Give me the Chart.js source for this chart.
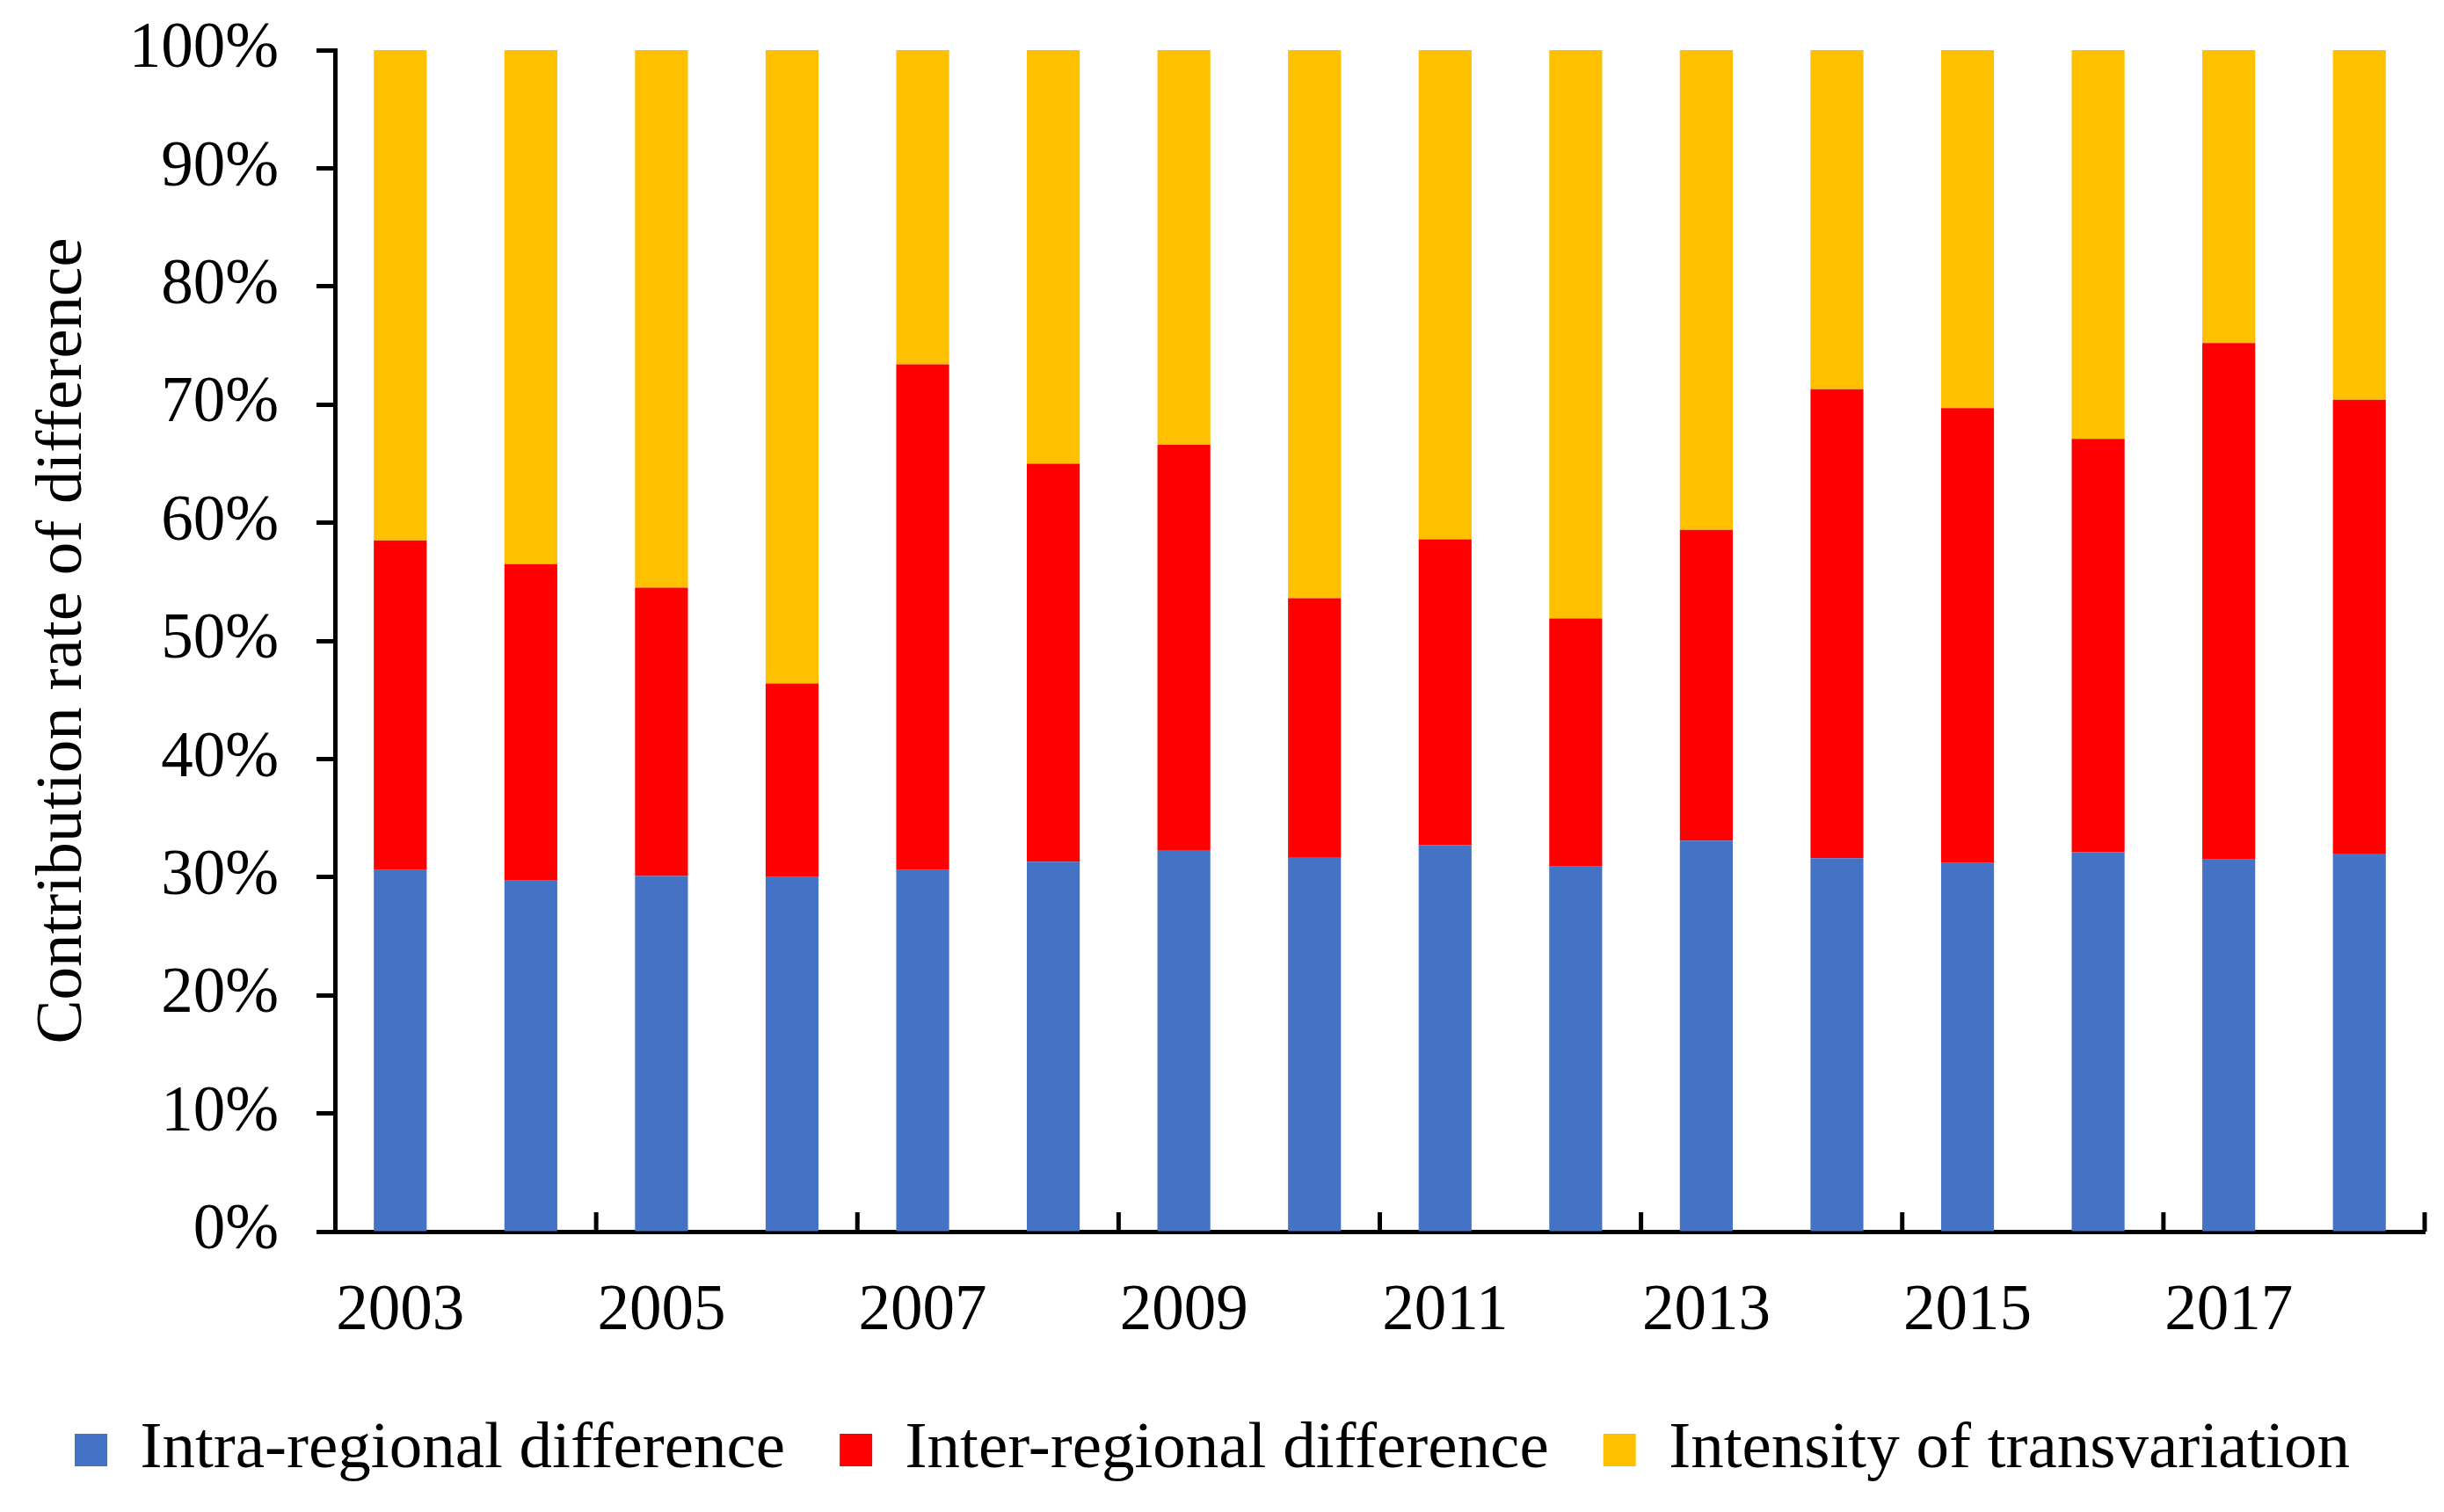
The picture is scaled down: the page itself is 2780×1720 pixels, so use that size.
<!DOCTYPE html>
<html>
<head>
<meta charset="utf-8">
<script src="https://cdn.jsdelivr.net/npm/chart.js@4.4.1/dist/chart.umd.min.js"></script>
<style>
  html, body { margin: 0; padding: 0; background: #fff; }
  #wrap { width: 2780px; height: 1720px; }
</style>
</head>
<body>
<div id="wrap"><canvas id="chart" width="2780" height="1720"></canvas></div>
<script>
// valores (en %)
const years = ['2003', '2004', '2005', '2006', '2007', '2008', '2009', '2010',
               '2011', '2012', '2013', '2014', '2015', '2016', '2017', '2018'];
const intraRegional = [30.6, 29.7, 30.1, 30.0, 30.6, 31.3, 32.3, 31.7,
                       32.7, 30.9, 33.1, 31.6, 31.2, 32.1, 31.5, 32.0];
const interRegional = [27.9, 26.8, 24.4, 16.4, 42.8, 33.7, 34.3, 21.9,
                       25.9, 21.0, 26.3, 39.7, 38.5, 35.0, 43.7, 38.4];
const transvariation = [41.5, 43.5, 45.5, 53.6, 26.6, 35.0, 33.4, 46.4,
                        41.4, 48.1, 40.6, 28.7, 30.3, 32.9, 24.8, 29.6];
const yTicks = [0, 10, 20, 30, 40, 50, 60, 70, 80, 90, 100];

const FONT = 'Liberation Serif, "Times New Roman", serif';

// marcas del eje X hacia arriba, cada dos categorias
const innerTicks = {
    id: 'innerTicks',
    afterDraw(chart) {
        const { ctx, chartArea } = chart;
        const x = chart.scales.x;
        ctx.save();
        ctx.strokeStyle = '#000';
        ctx.lineWidth = 5;
        for (let k = 2; k <= years.length; k += 2) {
            const px = x.getPixelForValue(k - 0.5);
            ctx.beginPath();
            ctx.moveTo(px, chartArea.bottom);
            ctx.lineTo(px, chartArea.bottom - 22);
            ctx.stroke();
        }
        ctx.restore();
    }
};

const ctx = document.getElementById('chart').getContext('2d');
new Chart(ctx, {
    type: 'bar',
    data: {
        labels: years,
        datasets: [
            { label: 'Intra-regional difference', data: intraRegional, backgroundColor: '#4472C4' },
            { label: 'Inter-regional difference', data: interRegional, backgroundColor: '#FF0000' },
            { label: 'Intensity of transvariation', data: transvariation, backgroundColor: '#FFC000' }
        ]
    },
    options: {
        responsive: false,
        devicePixelRatio: 1,
        animation: false,
        datasets: { bar: { barPercentage: 0.405, categoryPercentage: 1, borderWidth: 0 } },
        layout: { padding: { left: 0, right: 22, top: 57, bottom: 23 } },
        plugins: {
            tooltip: { enabled: false },
            legend: {
                position: 'bottom',
                labels: {
                    boxWidth: 37,
                    boxHeight: 37,
                    padding: 62,
                    color: '#000',
                    font: { family: FONT, size: 75 }
                }
            }
        },
        scales: {
            x: {
                stacked: true,
                z: 1,
                grid: { display: false, drawTicks: false },
                border: { display: true, color: '#000', width: 5 },
                ticks: {
                    autoSkip: false,
                    maxRotation: 0,
                    padding: 48,
                    color: '#000',
                    font: { family: FONT, size: 73 },
                    callback: (v, i) => (i % 2 === 0 ? years[i] : '')
                },
                afterFit: (scale) => { scale.height = 149; }
            },
            y: {
                stacked: true,
                z: 1,
                min: yTicks[0],
                max: yTicks[yTicks.length - 1],
                grid: {
                    display: true,
                    drawOnChartArea: false,
                    drawTicks: true,
                    tickLength: 21,
                    tickWidth: 5,
                    tickColor: '#000'
                },
                border: { display: true, color: '#000', width: 5 },
                ticks: {
                    stepSize: yTicks[1] - yTicks[0],
                    padding: 43,
                    color: '#000',
                    font: { family: FONT, size: 73 },
                    callback: (v) => v + '%'
                },
                title: {
                    display: true,
                    text: 'Contribution rate of difference',
                    color: '#000',
                    font: { family: FONT, size: 75 },
                    padding: { top: 27, bottom: 0 }
                },
                afterFit: (scale) => {
                    scale.width = 381;
                    scale.paddingTop = 0;
                    scale.paddingBottom = 0;
                }
            }
        }
    },
    plugins: [innerTicks]
});
</script>
</body>
</html>
